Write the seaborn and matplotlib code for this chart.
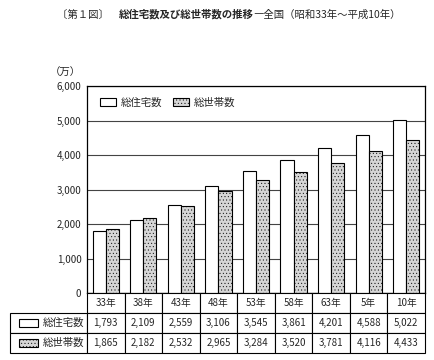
import numpy as np
import pandas as pd
import matplotlib
matplotlib.use('Agg')
import matplotlib.pyplot as plt
from matplotlib.patches import Rectangle
from matplotlib.ticker import FuncFormatter
import seaborn as sns

years = ['33年', '38年', '43年', '48年', '53年', '58年', '63年', '5年', '10年']
housing = [1793, 2109, 2559, 3106, 3545, 3861, 4201, 4588, 5022]
households = [1865, 2182, 2532, 2965, 3284, 3520, 3781, 4116, 4433]
series = ['総住宅数', '総世帯数']
y_ticks = [0, 1000, 2000, 3000, 4000, 5000, 6000]

sns.set_style('white')
plt.rcParams['font.family'] = ['Noto Sans CJK JP', 'DejaVu Sans']
plt.rcParams['hatch.linewidth'] = 0.3

WHITE = '#ffffff'
GRAY = '#d6d6d6'
HATCH = '.....'

df = pd.DataFrame({
    'year': years * 2,
    'series': [series[0]] * len(years) + [series[1]] * len(years),
    'value': housing + households,
})

fig = plt.figure(figsize=(4.35, 3.6), dpi=100)
ax = fig.add_axes([0.2, 0.186, 0.777, 0.575])

sns.barplot(data=df, x='year', y='value', hue='series', order=years,
            hue_order=series, palette=[WHITE, GRAY], width=0.7,
            edgecolor='black', linewidth=0.8, saturation=1, ax=ax,
            legend=False, zorder=3)

# gray bars get a dotted texture
n = len(years)
for i, bar in enumerate(ax.patches[:2 * n]):
    if i >= n:
        bar.set_hatch(HATCH)

ax.set_ylim(0, 6000)
ax.set_xlim(-0.5, n - 0.5)
ax.set_yticks(y_ticks)
ax.yaxis.set_major_formatter(FuncFormatter(lambda v, p: f'{int(v):,}'))
ax.tick_params(axis='y', length=0, labelsize=7, pad=4)
ax.set_xticks([])
ax.set_xlabel('')
ax.set_ylabel('')
ax.grid(axis='y', color='#444444', linewidth=0.8, zorder=0)
for s in ax.spines.values():
    s.set_color('black')
    s.set_linewidth(0.9)

# legend
handles = [Rectangle((0, 0), 1, 1, facecolor=WHITE, edgecolor='black', linewidth=0.8),
           Rectangle((0, 0), 1, 1, facecolor=GRAY, edgecolor='black', linewidth=0.8, hatch=HATCH)]
ax.legend(handles, series, loc='upper left', bbox_to_anchor=(0.01, 0.99), ncol=2,
          frameon=False, fontsize=7.5, handlelength=1.6, handleheight=0.9,
          columnspacing=1.0, handletextpad=0.4)

# unit label
fig.text(0.115, 0.797, '（万）', fontsize=7.5, ha='left', va='center')

# title in pieces: normal / bold / normal
t1 = fig.text(0.13, 0.958, '〔第１図〕　', fontsize=7.5, ha='left', va='center')
t2 = ax.annotate('総住宅数及び総世帯数の推移', xy=(1, 0), xycoords=t1,
                 fontsize=7.5, fontweight='bold', ha='left', va='bottom')
ax.annotate('―全国（昭和33年～平成10年）', xy=(1, 0), xycoords=t2,
            fontsize=7.5, ha='left', va='bottom')

# data table below the chart
tab = fig.add_axes([0.023, 0.019, 0.954, 0.167])
tab.axis('off')
label_w = 77 / 415
cells = [[''] + years,
         [''] + [f'{v:,}' for v in housing],
         [''] + [f'{v:,}' for v in households]]
col_widths = [label_w] + [(1 - label_w) / n] * n
table = tab.table(cellText=cells, colWidths=col_widths, bbox=[0, 0, 1, 1],
                  cellLoc='center')
table.auto_set_font_size(False)
for (r, c), cell in table.get_celld().items():
    cell.set_linewidth(0.8)
    cell.set_edgecolor('black')
    cell.get_text().set_fontsize(7)
    if r == 0 and c == 0:
        cell.visible_edges = ''

# swatches and names in the row labels
row_h = 1 / 3
for k, (fc, h) in enumerate([(WHITE, None), (GRAY, HATCH)]):
    yc = 1 - row_h * (k + 1.5)
    tab.add_patch(Rectangle((0.022, yc - 0.07), 0.045, 0.14, facecolor=fc,
                            edgecolor='black', linewidth=0.8, hatch=h,
                            transform=tab.transAxes, zorder=5))
    tab.text(0.078, yc, series[k], fontsize=7.5, ha='left', va='center',
             transform=tab.transAxes)

fig.savefig('out.png', dpi=100)
